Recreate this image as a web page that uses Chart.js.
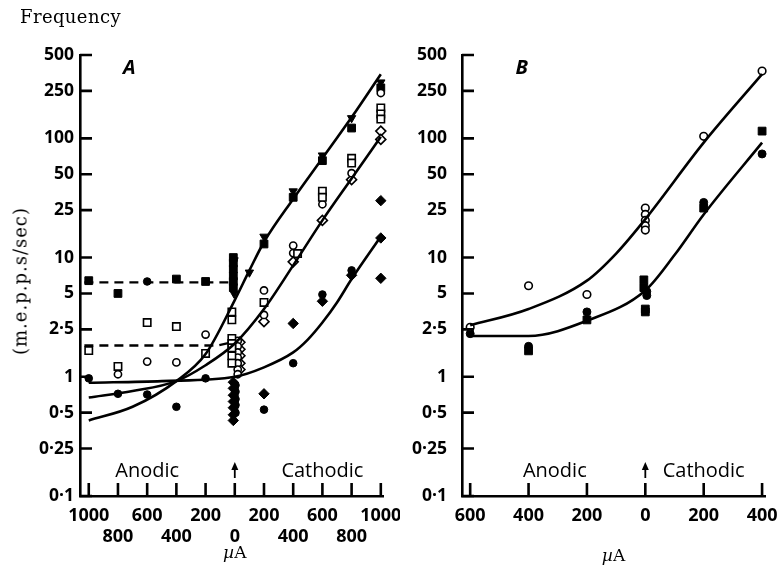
<!DOCTYPE html>
<html>
<head>
<meta charset="utf-8">
<script src="https://cdn.jsdelivr.net/npm/chart.js@4.4.0/dist/chart.umd.min.js"></script>
<style>
  body { margin: 0; background: #fff; width: 779px; height: 566px; overflow: hidden; position: relative; }
  canvas { position: absolute; top: 0; }
  #ca { left: 0; }
  #cb { left: 400px; }
  #freq { position: absolute; left: 20px; top: 6px; font: 18px "DejaVu Serif", serif; letter-spacing: 0.4px; color: #000; }
  #ylab { position: absolute; left: 20px; top: 281px; font: 18px "DejaVu Serif", serif; letter-spacing: 1px;
          color: #000; white-space: nowrap; transform: translate(-50%, -50%) rotate(-90deg); }
</style>
</head>
<body>
<canvas id="ca" width="400" height="566"></canvas>
<canvas id="cb" width="379" height="566"></canvas>
<div id="freq">Frequency</div>
<div id="ylab">(m.e.p.p.s/sec)</div>
<script>
/* global Chart */

// shared y axis (log)
const yTicks = [0.1, 0.25, 0.5, 1, 2.5, 5, 10, 25, 50, 100, 250, 500];
const yTickLabels = ['0·1', '0·25', '0·5', '1', '2·5', '5', '10', '25', '50', '100', '250', '500'];

// panel A, current in µA (anodic negative)
const xTicksA = [-1000, -800, -600, -400, -200, 0, 200, 400, 600, 800, 1000];
const xTickLabelsA = ['1000', '800', '600', '400', '200', '0', '200', '400', '600', '800', '1000'];

const aFilledSquares = [[-1000, 6.4], [-800, 5.0], [-400, 6.6], [-200, 6.3],
  [-10, 10], [-10, 9], [-10, 8], [-10, 7], [-10, 6.3], [-10, 5.6],
  [200, 13], [400, 32], [600, 65], [800, 122], [1000, 265]];
const aFilledTriangles = [[-5, 9.5], [-5, 5.0], [100, 7.5], [200, 15], [400, 36],
  [600, 72], [800, 148], [1000, 295]];
const aFilledCircles = [[-600, 6.3], [-1000, 0.97], [-800, 0.72], [-600, 0.71], [-400, 0.56],
  [-200, 0.97], [5, 0.85], [5, 0.75], [5, 0.65], [5, 0.58], [5, 0.5],
  [200, 0.53], [400, 1.3], [600, 4.9], [800, 7.8]];
const aFilledDiamonds = [[-10, 0.9], [-10, 0.8], [-10, 0.7], [-10, 0.62], [-10, 0.55],
  [-10, 0.48], [-10, 0.43], [200, 0.72], [400, 2.8], [600, 4.3], [800, 7.1],
  [1000, 6.7], [1000, 14.6], [1000, 30]];
const aOpenSquares = [[-1000, 1.66], [-800, 1.22], [-600, 2.85], [-400, 2.64], [-200, 1.57],
  [-20, 3.5], [-20, 3.0], [-20, 2.1], [-20, 1.9], [-20, 1.75], [-20, 1.5], [-20, 1.3],
  [200, 4.2], [430, 10.8], [600, 36], [600, 32], [800, 68], [800, 62],
  [1000, 180], [1000, 160], [1000, 145]];
const aOpenCircles = [[-800, 1.05], [-600, 1.34], [-400, 1.32], [-200, 2.26],
  [20, 2.0], [20, 1.8], [20, 1.6], [20, 1.45], [20, 1.3], [20, 1.15], [20, 1.05],
  [200, 5.3], [200, 3.3], [400, 12.6], [400, 10.9], [600, 28], [800, 51], [1000, 240]];
const aOpenDiamonds = [[35, 1.95], [35, 1.7], [35, 1.5], [35, 1.3], [35, 1.15],
  [200, 2.9], [400, 9.2], [600, 20.5], [800, 45], [1000, 115], [1000, 98]];

const aCurveTop = [[-1000, 0.43], [-700, 0.56], [-400, 0.92], [-200, 1.55], [0, 4.4],
  [100, 7.8], [200, 13.5], [400, 31], [600, 68], [800, 150], [1000, 345]];
const aCurveMid = [[-1000, 0.67], [-700, 0.76], [-400, 0.92], [-200, 1.25], [0, 1.9],
  [200, 3.7], [400, 8.6], [600, 20.5], [800, 46], [1000, 103]];
const aCurveLow = [[-1000, 0.89], [-500, 0.92], [0, 1.0], [200, 1.2], [400, 1.6],
  [500, 2.05], [600, 2.85], [700, 4.2], [800, 6.6], [1000, 15]];
const aDashHigh = [[-1030, 6.2], [0, 6.2]];
const aDashLow = [[-1030, 1.83], [-120, 1.83], [-20, 1.95]];

// panel B
const xTicksB = [-600, -400, -200, 0, 200, 400];
const xTickLabelsB = ['600', '400', '200', '0', '200', '400'];

const bOpenCircles = [[-600, 2.6], [-400, 5.8], [-200, 4.9],
  [0, 26], [0, 23], [0, 20.5], [0, 18.5], [0, 17], [200, 104], [400, 367]];
const bFilledCircles = [[-600, 2.3], [-400, 1.8], [-200, 3.5], [5, 5.2], [5, 4.8],
  [200, 29], [400, 74]];
const bFilledSquares = [[-400, 1.65], [-200, 3.0], [-5, 6.5], [-5, 5.6], [0, 3.7], [0, 3.5],
  [200, 26], [400, 115]];
const bCurveUpper = [[-600, 2.7], [-400, 3.7], [-200, 6.4], [-100, 10.8], [0, 21],
  [200, 92], [400, 345]];
const bCurveLower = [[-600, 2.2], [-400, 2.2], [-200, 2.95], [0, 5.3], [100, 10.5],
  [200, 23], [400, 92]];

const pts = (arr) => arr.map(([x, y]) => ({ x, y }));

function marks(data, style, filled, radius, rotation) {
  return {
    type: 'scatter',
    data: pts(data),
    pointStyle: style,
    pointRadius: radius,
    pointRotation: rotation || 0,
    pointBackgroundColor: filled ? '#000' : '#fff',
    pointBorderColor: '#000',
    pointBorderWidth: filled ? 1 : 1.6,
    showLine: false,
    clip: false
  };
}

function curve(data, dashed) {
  return {
    type: 'line',
    data: pts(data),
    borderColor: '#000',
    borderWidth: dashed ? 2.3 : 2.6,
    borderDash: dashed ? [9, 6] : [],
    pointRadius: 0,
    cubicInterpolationMode: dashed ? 'default' : 'monotone',
    tension: dashed ? 0 : 0.4,
    fill: false,
    clip: false
  };
}

// inward tick marks and the panel notes
const framePlugin = {
  id: 'frame',
  afterDraw(chart, args, opts) {
    const { ctx, chartArea: a } = chart;
    const x = chart.scales.x;
    const y = chart.scales.y;
    ctx.save();
    ctx.strokeStyle = '#000';
    ctx.lineWidth = 2.6;
    ctx.beginPath();
    y.ticks.forEach((t) => {
      const py = y.getPixelForValue(t.value);
      ctx.moveTo(a.left, py);
      ctx.lineTo(a.left + 12, py);
    });
    x.ticks.forEach((t) => {
      const px = x.getPixelForValue(t.value);
      ctx.moveTo(px, a.bottom);
      ctx.lineTo(px, a.bottom - 13);
    });
    ctx.stroke();

    ctx.fillStyle = '#000';
    ctx.textAlign = 'center';
    ctx.textBaseline = 'middle';
    ctx.font = '20px "Open Sans"';
    ctx.fillText('Anodic', x.getPixelForValue(opts.anodic), a.bottom - 25);
    ctx.fillText('Cathodic', x.getPixelForValue(opts.cathodic), a.bottom - 25);

    // arrow at zero current
    const ax = x.getPixelForValue(0);
    ctx.lineWidth = 1.8;
    ctx.beginPath();
    ctx.moveTo(ax, a.bottom - 18);
    ctx.lineTo(ax, a.bottom - 28);
    ctx.stroke();
    ctx.beginPath();
    ctx.moveTo(ax, a.bottom - 34);
    ctx.lineTo(ax - 3.5, a.bottom - 26);
    ctx.lineTo(ax + 3.5, a.bottom - 26);
    ctx.closePath();
    ctx.fill();

    ctx.font = 'italic bold 20px "Open Sans"';
    ctx.textAlign = 'left';
    ctx.fillText(opts.letter, x.getPixelForValue(opts.letterAt), a.top + 13);

    // µA axis title
    const cx = opts.unitAt === null ? (a.left + a.right) / 2 : x.getPixelForValue(opts.unitAt);
    ctx.font = 'italic 17px "DejaVu Serif"';
    const w1 = ctx.measureText('µ').width;
    ctx.font = '17px "DejaVu Serif"';
    const w2 = ctx.measureText('A').width;
    const sx = cx - (w1 + w2) / 2;
    ctx.font = 'italic 17px "DejaVu Serif"';
    ctx.fillText('µ', sx, opts.unitY);
    ctx.font = '17px "DejaVu Serif"';
    ctx.fillText('A', sx + w1, opts.unitY);
    ctx.restore();
  }
};

function panel(canvas, cfg) {
  return new Chart(canvas.getContext('2d'), {
    data: { datasets: cfg.datasets },
    options: {
      responsive: false,
      animation: false,
      layout: { padding: { left: 0, top: 55, right: cfg.right, bottom: 0 } },
      scales: {
        x: {
          type: 'linear',
          min: cfg.xMin,
          max: cfg.xMax,
          afterFit: (s) => { s.height = 70; s.paddingLeft = 0; s.paddingRight = 0; },
          afterBuildTicks: (s) => { s.ticks = cfg.xTicks.map((v) => ({ value: v })); },
          grid: { display: false, drawTicks: false },
          border: { display: true, color: '#000', width: 2.6 },
          ticks: {
            autoSkip: false,
            maxRotation: 0,
            padding: 10,
            color: '#000',
            font: { family: 'Open Sans', size: 18, weight: 'bold', lineHeight: 1.15 },
            callback: (v, i) => cfg.xLabel(i)
          }
        },
        y: {
          type: 'logarithmic',
          min: 0.1,
          max: 500,
          afterFit: (s) => { s.width = cfg.yWidth; s.paddingTop = 0; s.paddingBottom = 0; },
          afterBuildTicks: (s) => { s.ticks = yTicks.map((v) => ({ value: v })); },
          grid: { display: false, drawTicks: false },
          border: { display: true, color: '#000', width: 2.6 },
          ticks: {
            autoSkip: false,
            padding: cfg.yPad,
            color: '#000',
            font: { family: 'Open Sans', size: 17.5, weight: 'bold' },
            callback: (v, i) => yTickLabels[i]
          }
        }
      },
      plugins: {
        legend: { display: false },
        tooltip: { enabled: false },
        frame: cfg.notes
      }
    },
    plugins: [framePlugin]
  });
}

panel(document.getElementById('ca'), {
  right: 17, yWidth: 80, yPad: 6,
  xMin: -1060, xMax: 1015, xTicks: xTicksA,
  xLabel: (i) => (i % 2 === 0 ? [xTickLabelsA[i], ''] : ['', xTickLabelsA[i]]),
  notes: { anodic: -600, cathodic: 600, letter: 'A', letterAt: -765, unitAt: 0, unitY: 554 },
  datasets: [
    curve(aCurveTop), curve(aCurveMid), curve(aCurveLow),
    curve(aDashHigh, true), curve(aDashLow, true),
    marks(aOpenSquares, 'rect', false, 5.2),
    marks(aOpenCircles, 'circle', false, 3.6),
    marks(aOpenDiamonds, 'rectRot', false, 5.0),
    marks(aFilledSquares, 'rect', true, 5.5),
    marks(aFilledTriangles, 'triangle', true, 4.8, 180),
    marks(aFilledCircles, 'circle', true, 3.8),
    marks(aFilledDiamonds, 'rectRot', true, 5.2)
  ]
});

panel(document.getElementById('cb'), {
  right: 14, yWidth: 62, yPad: 15,
  xMin: -628, xMax: 410, xTicks: xTicksB,
  xLabel: (i) => [xTickLabelsB[i]],
  notes: { anodic: -310, cathodic: 200, letter: 'B', letterAt: -445, unitAt: null, unitY: 557 },
  datasets: [
    curve(bCurveUpper), curve(bCurveLower),
    marks(bOpenCircles, 'circle', false, 3.8),
    marks(bFilledSquares, 'rect', true, 5.5),
    marks(bFilledCircles, 'circle', true, 4)
  ]
});
</script>
</body>
</html>
